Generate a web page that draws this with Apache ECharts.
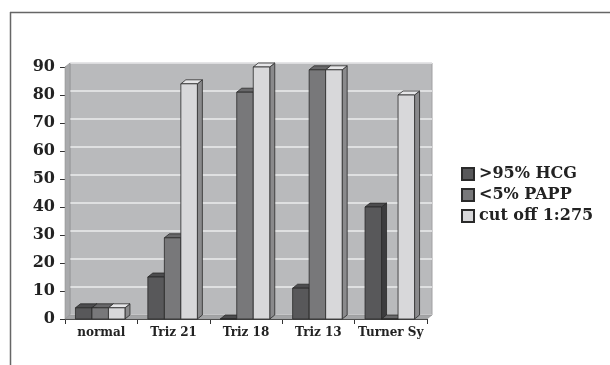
<!DOCTYPE html>
<html>
<head>
<meta charset="utf-8">
<script src="https://cdn.jsdelivr.net/npm/echarts@6/dist/echarts.min.js"></script>
<style>
  html, body { margin: 0; padding: 0; background: #fff; }
  #chart { width: 610px; height: 365px; }
</style>
</head>
<body>
<div id="chart"></div>
<script>
// Categories and series values
const categories = ['normal', 'Triz 21', 'Triz 18', 'Triz 13', 'Turner Sy'];
const seriesNames = ['>95% HCG', '<5% PAPP', 'cut off 1:275'];
const hcg = [4, 15, 0, 11, 40];
const papp = [4, 29, 81, 89, 0];
const cutoff = [4, 84, 90, 89, 80];
const yTicks = [0, 10, 20, 30, 40, 50, 60, 70, 80, 90];

// Face colours for each series: front, top, side
const palette = [
  { front: '#58585a', top: '#4c4c4e', side: '#3c3c3e' },
  { front: '#78787a', top: '#68686a', side: '#58585a' },
  { front: '#d8d8da', top: '#e6e6e8', side: '#8a8a8c' }
];

const FONT = 'DejaVu Serif';
const DX = 5, DY = 4; // depth of the 3D extrusion

function makeRender(sIdx) {
  const c = palette[sIdx];
  return function (params, api) {
    const cat = api.value(0);
    const v = api.value(1);
    const base = api.coord([cat, 0]);
    const top = api.coord([cat, v]);
    const catW = api.size([1, 0])[0];
    const bw = catW * 0.228;
    const x0 = base[0] - 1.5 * bw - 1 + sIdx * bw;
    const x1 = x0 + bw;
    const ty = top[1], by = base[1];
    const stroke = { stroke: '#2a2a2a', lineWidth: 0.8 };
    return {
      type: 'group',
      children: [
        {
          type: 'polygon',
          shape: { points: [[x1, ty], [x1 + DX, ty - DY], [x1 + DX, by - DY], [x1, by]] },
          style: Object.assign({ fill: c.side }, stroke)
        },
        {
          type: 'polygon',
          shape: { points: [[x0, ty], [x0 + DX, ty - DY], [x1 + DX, ty - DY], [x1, ty]] },
          style: Object.assign({ fill: c.top }, stroke)
        },
        {
          type: 'rect',
          shape: { x: x0, y: ty, width: bw, height: by - ty },
          style: Object.assign({ fill: c.front }, stroke)
        }
      ]
    };
  };
}

const dataSets = [hcg, papp, cutoff];
const series = dataSets.map(function (arr, i) {
  return {
    name: seriesNames[i],
    type: 'custom',
    xAxisIndex: 1,
    yAxisIndex: 1,
    clip: false,
    renderItem: makeRender(i),
    itemStyle: { color: palette[i].front, borderColor: '#2a2a2a', borderWidth: 1 },
    encode: { x: 0, y: 1 },
    data: arr.map(function (v, k) { return [k, v]; }),
    z: 5 + i
  };
});

const chart = echarts.init(document.getElementById('chart'), null, { renderer: 'canvas' });
chart.setOption({
  animation: false,
  backgroundColor: '#ffffff',
  grid: [
    // back wall
    { left: 70, right: 178, top: 63, bottom: 50, show: true, backgroundColor: '#b9babc', borderWidth: 1, borderColor: '#a0a0a2' },
    // front plane carrying the axes
    { left: 65, right: 183, top: 67, bottom: 46 }
  ],
  xAxis: [
    { gridIndex: 0, type: 'category', data: categories, show: false },
    {
      gridIndex: 1, type: 'category', data: categories,
      axisLine: { lineStyle: { color: '#333', width: 1 } },
      axisTick: { show: true, alignWithLabel: false, length: 5, lineStyle: { color: '#333' } },
      axisLabel: { interval: 0, color: '#222', fontFamily: FONT, fontWeight: 'bold', fontSize: 12, margin: 8 }
    }
  ],
  yAxis: [
    {
      gridIndex: 0, type: 'value', min: 0, max: 90, interval: 10,
      axisLine: { show: false }, axisTick: { show: false }, axisLabel: { show: false },
      splitLine: { show: true, lineStyle: { color: '#ececee', width: 1.5 } }
    },
    {
      gridIndex: 1, type: 'value', min: 0, max: 90, interval: 10,
      axisLine: { show: true, lineStyle: { color: '#333', width: 1 } },
      axisTick: { show: true, length: 5, lineStyle: { color: '#333' } },
      axisLabel: {
        color: '#222', fontFamily: FONT, fontWeight: 'bold', fontSize: 16, margin: 10,
        formatter: function (val) { return yTicks.indexOf(val) >= 0 ? String(val) : ''; }
      },
      splitLine: { show: false }
    }
  ],
  legend: {
    orient: 'vertical',
    left: 456,
    top: 161,
    icon: 'rect',
    itemWidth: 12,
    itemHeight: 12,
    itemGap: 5,
    textStyle: { color: '#222', fontFamily: FONT, fontWeight: 'bold', fontSize: 16 },
    data: seriesNames
  },
  graphic: [
    // left side wall of the plot box
    { type: 'polygon', z: 1, shape: { points: [[65, 319], [65, 67], [70, 63], [70, 315]] }, style: { fill: '#a9aaac', stroke: '#909092', lineWidth: 0.6 } },
    // floor of the plot box
    { type: 'polygon', z: 1, shape: { points: [[65, 319], [70, 315], [432, 315], [427, 319]] }, style: { fill: '#a4a5a7', stroke: '#909092', lineWidth: 0.6 } },
    // page frame
    { type: 'line', shape: { x1: 10, y1: 12.5, x2: 610, y2: 12.5 }, style: { stroke: '#666', lineWidth: 1.5 } },
    { type: 'line', shape: { x1: 10.5, y1: 12, x2: 10.5, y2: 365 }, style: { stroke: '#666', lineWidth: 1.5 } }
  ],
  series: series
});
</script>
</body>
</html>
